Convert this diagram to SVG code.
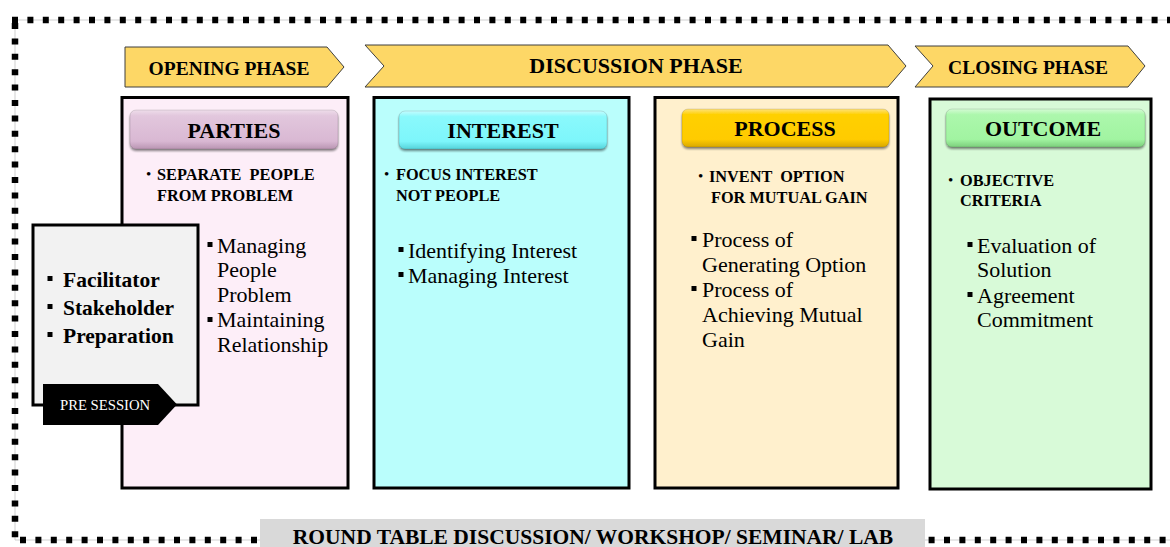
<svg xmlns="http://www.w3.org/2000/svg" width="1170" height="547" viewBox="0 0 1170 547">
  <defs>
    <linearGradient id="gParties" x1="0" y1="0" x2="0" y2="1">
      <stop offset="0" stop-color="#EEDDEA"/>
      <stop offset="0.15" stop-color="#E2C7DD"/>
      <stop offset="0.8" stop-color="#D9B8D3"/>
      <stop offset="1" stop-color="#B995B2"/>
    </linearGradient>
    <linearGradient id="gInterest" x1="0" y1="0" x2="0" y2="1">
      <stop offset="0" stop-color="#C4FCFE"/>
      <stop offset="0.15" stop-color="#8AF9FC"/>
      <stop offset="0.8" stop-color="#7DF6FB"/>
      <stop offset="1" stop-color="#55D3DA"/>
    </linearGradient>
    <linearGradient id="gProcess" x1="0" y1="0" x2="0" y2="1">
      <stop offset="0" stop-color="#FFE27A"/>
      <stop offset="0.15" stop-color="#FFD000"/>
      <stop offset="0.8" stop-color="#FFCB00"/>
      <stop offset="1" stop-color="#D9A800"/>
    </linearGradient>
    <linearGradient id="gOutcome" x1="0" y1="0" x2="0" y2="1">
      <stop offset="0" stop-color="#D4FBD4"/>
      <stop offset="0.15" stop-color="#ACF7AC"/>
      <stop offset="0.8" stop-color="#A1F4A1"/>
      <stop offset="1" stop-color="#7CCF7C"/>
    </linearGradient>
    <filter id="btnShadow" x="-5%" y="-20%" width="110%" height="150%">
      <feGaussianBlur in="SourceAlpha" stdDeviation="1.2"/>
      <feOffset dx="0" dy="1.5" result="b"/>
      <feComponentTransfer><feFuncA type="linear" slope="0.45"/></feComponentTransfer>
      <feMerge><feMergeNode/><feMergeNode in="SourceGraphic"/></feMerge>
    </filter>
  </defs>
  <style>
    .phase { fill: #FDD766; stroke: #3F3F3F; stroke-width: 1; }
    .phaseTxt { font-family: "Liberation Serif", serif; font-weight: bold; font-size: 19.5px; fill: #000; text-anchor: middle; }
    .box { stroke: #000; stroke-width: 3; }
    .btn { filter: url(#btnShadow); stroke: rgba(0,0,0,0.12); stroke-width: 1; }
    .btnTxt { font-family: "Liberation Serif", serif; font-weight: bold; font-size: 22px; fill: #000; text-anchor: middle; }
    .sub { font-family: "Liberation Serif", serif; font-weight: bold; font-size: 16.3px; fill: #000; white-space: pre; }
    .dot { font-family: "Liberation Serif", serif; font-size: 15px; fill: #000; }
    .item { font-family: "Liberation Serif", serif; font-size: 22px; fill: #000; }
    .pre { font-family: "Liberation Serif", serif; font-weight: bold; font-size: 21.5px; fill: #000; }
    .sq { fill: #000; }
    .dashGuide { stroke: #CFCFCF; stroke-width: 1; fill: none; }
    .dash { stroke: #000; stroke-width: 6.5; fill: none; stroke-dasharray: 6 9.4; }
  </style>

  <rect x="0" y="0" width="1170" height="547" fill="#FFFFFF"/>

  <!-- dotted outer frame (open on the right) -->
  <g id="frame">
    <path class="dashGuide" d="M15,20 H1170 M15,20 V540 M15,540 H1170"/>
    <path class="dash" d="M12,20 H1170"/>
    <path class="dash" d="M15,23 V540"/>
    <path class="dash" d="M20,540 H1170"/>
  </g>

  <!-- phase banners -->
  <g id="phase-opening">
    <polygon class="phase" points="125,47 327,47 344,67 327,87 125,87"/>
    <text class="phaseTxt" x="229" y="75">OPENING PHASE</text>
  </g>
  <g id="phase-discussion">
    <polygon class="phase" points="365,45 888,45 906,66 888,87 365,87 384,66"/>
    <text class="phaseTxt" x="636" y="73" style="font-size:22px">DISCUSSION PHASE</text>
  </g>
  <g id="phase-closing">
    <polygon class="phase" points="915,46 1128,46 1145,66 1128,87 915,87 933,66"/>
    <text class="phaseTxt" x="1028" y="74">CLOSING PHASE</text>
  </g>

  <!-- PARTIES -->
  <g id="node-parties">
    <rect class="box" x="122" y="97.5" width="226" height="390.5" fill="#FDEEF8"/>
    <rect class="btn" x="130" y="110" width="208" height="39" rx="6" fill="url(#gParties)"/>
    <text class="btnTxt" x="234" y="138">PARTIES</text>
    <text class="dot" x="146" y="179">•</text>
    <text class="sub" x="157" y="180">SEPARATE  PEOPLE</text>
    <text class="sub" x="157" y="201">FROM PROBLEM</text>
    <rect class="sq" x="207.5" y="242" width="5" height="5"/>
    <text class="item" x="217" y="253">Managing</text>
    <text class="item" x="217" y="277">People</text>
    <text class="item" x="217" y="302">Problem</text>
    <rect class="sq" x="207.5" y="317" width="5" height="5"/>
    <text class="item" x="217" y="327">Maintaining</text>
    <text class="item" x="217" y="352">Relationship</text>
  </g>

  <!-- INTEREST -->
  <g id="node-interest">
    <rect class="box" x="374" y="97.5" width="255" height="390.5" fill="#BAFEFC"/>
    <rect class="btn" x="399" y="111" width="208" height="38" rx="6" fill="url(#gInterest)"/>
    <text class="btnTxt" x="503" y="138">INTEREST</text>
    <text class="dot" x="384" y="179">•</text>
    <text class="sub" x="396" y="180">FOCUS INTEREST</text>
    <text class="sub" x="396" y="201">NOT PEOPLE</text>
    <rect class="sq" x="398.5" y="247" width="5" height="5"/>
    <text class="item" x="408" y="258">Identifying Interest</text>
    <rect class="sq" x="398.5" y="272" width="5" height="5"/>
    <text class="item" x="408" y="283">Managing Interest</text>
  </g>

  <!-- PROCESS -->
  <g id="node-process">
    <rect class="box" x="655" y="97.5" width="243" height="390.5" fill="#FFF0CD"/>
    <rect class="btn" x="682" y="109" width="207" height="38" rx="6" fill="url(#gProcess)"/>
    <text class="btnTxt" x="785" y="136">PROCESS</text>
    <text class="dot" x="698" y="181">•</text>
    <text class="sub" x="709" y="182">INVENT  OPTION</text>
    <text class="sub" x="711" y="203">FOR MUTUAL GAIN</text>
    <rect class="sq" x="691.5" y="236" width="5" height="5"/>
    <text class="item" x="702" y="247">Process of</text>
    <text class="item" x="702" y="272">Generating Option</text>
    <rect class="sq" x="691.5" y="286" width="5" height="5"/>
    <text class="item" x="702" y="297">Process of</text>
    <text class="item" x="702" y="322">Achieving Mutual</text>
    <text class="item" x="702" y="347">Gain</text>
  </g>

  <!-- OUTCOME -->
  <g id="node-outcome">
    <rect class="box" x="930" y="99" width="221" height="390" fill="#D8FAD8"/>
    <rect class="btn" x="946" y="109" width="199" height="38" rx="6" fill="url(#gOutcome)"/>
    <text class="btnTxt" x="1043" y="136">OUTCOME</text>
    <text class="dot" x="948" y="185">•</text>
    <text class="sub" x="960" y="186">OBJECTIVE</text>
    <text class="sub" x="960" y="206">CRITERIA</text>
    <rect class="sq" x="967.5" y="242" width="5" height="5"/>
    <text class="item" x="977" y="253">Evaluation of</text>
    <text class="item" x="977" y="277">Solution</text>
    <rect class="sq" x="967.5" y="292" width="5" height="5"/>
    <text class="item" x="977" y="303">Agreement</text>
    <text class="item" x="977" y="327">Commitment</text>
  </g>

  <!-- PRE SESSION panel -->
  <g id="node-presession">
    <rect x="33" y="225" width="165" height="180" fill="#F2F2F2" stroke="#000" stroke-width="3"/>
    <rect class="sq" x="47.5" y="276" width="5" height="5"/>
    <text class="pre" x="63" y="287">Facilitator</text>
    <rect class="sq" x="47.5" y="304" width="5" height="5"/>
    <text class="pre" x="63" y="315">Stakeholder</text>
    <rect class="sq" x="47.5" y="332" width="5" height="5"/>
    <text class="pre" x="63" y="343">Preparation</text>
    <polygon points="43,384 158,384 177,404.5 158,425 43,425" fill="#000"/>
    <text x="60" y="410" font-family="Liberation Serif, serif" font-size="14.7" fill="#FFFFFF">PRE SESSION</text>
  </g>

  <!-- footer label -->
  <g id="node-footer">
    <rect x="260" y="519" width="665" height="30" fill="#D9D9D9"/>
    <text x="593" y="544" font-family="Liberation Serif, serif" font-weight="bold" font-size="21.5" text-anchor="middle" fill="#000">ROUND TABLE DISCUSSION/ WORKSHOP/ SEMINAR/ LAB</text>
  </g>
</svg>
